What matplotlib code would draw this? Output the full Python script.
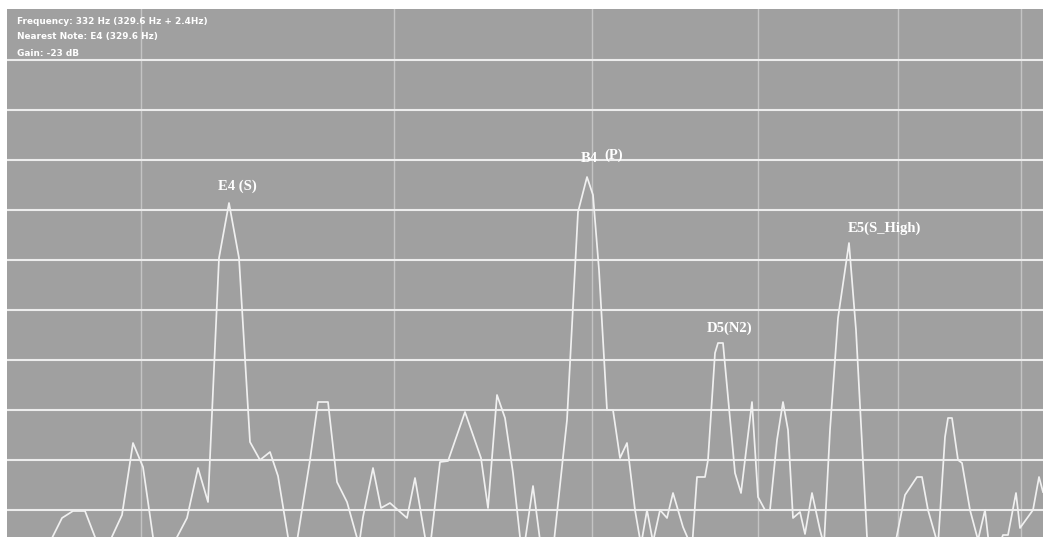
import matplotlib
matplotlib.use("Agg")
import matplotlib.pyplot as plt

# spectrum trace, x = display bin, y = level in dB
bins = [7, 45, 62, 73, 85, 95, 103, 122, 133, 143, 153, 165, 187, 198, 208,
        219, 229, 239, 250, 260, 270, 278, 288, 294, 310, 318, 328, 337, 347,
        359, 363, 373, 381, 390, 407, 415, 425, 430, 440, 448, 465, 481, 488,
        497, 505, 513, 520, 524, 533, 541, 552, 567, 578, 587, 593, 599, 607,
        613, 620, 627, 635, 641, 647, 653, 660, 667, 673, 683, 692, 697, 705,
        708, 715, 718, 723, 728, 735, 741, 752, 758, 765, 770, 777, 783, 788,
        793, 800, 805, 812, 820, 824, 830, 838, 849, 856, 867, 890, 905, 917,
        922, 928, 938, 945, 948, 952, 958, 962, 970, 978, 985, 989, 995, 1003,
        1008, 1016, 1020, 1033, 1039, 1043]
level_db = [-114, -108.4, -101.6, -100.2, -100.2, -105.4, -109.2, -101, -86.6,
            -91.4, -105.4, -110, -101.6, -91.6, -98.4, -49.6, -38.6, -49.6,
            -86.4, -90, -88.4, -93.2, -105.4, -110, -90, -78.4, -78.4, -94.4,
            -98.4, -107, -101.4, -91.6, -99.6, -98.6, -101.6, -93.6, -105.4,
            -107.6, -90.4, -90.2, -80.4, -89.6, -99.6, -77, -81.6, -92.6,
            -105.4, -107.6, -95.2, -107.6, -110, -82, -40.4, -33.4, -37, -52,
            -80, -80, -89.6, -86.6, -100, -107, -100, -106.4, -100, -101.6,
            -96.6, -103.4, -107.6, -93.4, -93.4, -90, -68.6, -66.6, -66.6,
            -77.4, -92.6, -96.6, -78.4, -97.4, -100, -100, -86, -78.4, -84,
            -101.6, -100.4, -104.8, -96.6, -104, -107, -84, -61.6, -46.6, -64,
            -105.4, -112, -97, -93.4, -93.4, -100, -107, -85.4, -81.6, -81.6,
            -90, -90.6, -100, -106, -100, -107, -109, -105, -105, -96.6,
            -103.6, -100, -93.4, -96.4]

# peak labels: text, x, y
peak_labels = ["E4 (S)", "B4", "(P)", "D5(N2)", "E5(S_High)"]
peak_x = [237, 589, 614, 730, 884]
peak_y = [-35.2, -29.8, -29.0, -63.6, -43.6]

info_lines = ["Frequency: 332 Hz (329.6 Hz + 2.4Hz)",
              "Nearest Note: E4 (329.6 Hz)",
              "Gain: -23 dB"]

freq_grid = [141, 394, 592, 758, 898, 1021]
db_grid = [-10, -20, -30, -40, -50, -60, -70, -80, -90, -100]

W, H = 1043, 537
fig = plt.figure(figsize=(W / 100, H / 100), dpi=100, facecolor="white")
ax = fig.add_axes([7 / W, 0, 1 - 7 / W, (H - 9) / H])
ax.set_facecolor("#a0a0a0")

ax.set_xlim(7, 1043)
ax.set_ylim(-105.4, 0.2)

for x in freq_grid:
    ax.axvline(x, color="#c4c4c4", lw=1.0, zorder=1)
for y in db_grid:
    ax.axhline(y, color="#ececec", lw=1.5, zorder=1)

ax.plot(bins, level_db, color="#f0f0f0", lw=1.25, zorder=3)

for txt, x, y in zip(peak_labels, peak_x, peak_y):
    ax.text(x, y, txt, color="white", fontsize=10.5, fontweight="bold",
            family=["Liberation Serif", "DejaVu Serif"],
            ha="center", va="center", zorder=4)

for i, line in enumerate(info_lines):
    fig.text(17 / W, 1 - (21 + 16 * i) / H, line, color="white",
             fontsize=6.4, fontweight="bold", ha="left", va="center",
             family=["DejaVu Sans"])

ax.set_xticks([])
ax.set_yticks([])
for s in ax.spines.values():
    s.set_visible(False)

fig.savefig("out.png", dpi=100, facecolor="white")
